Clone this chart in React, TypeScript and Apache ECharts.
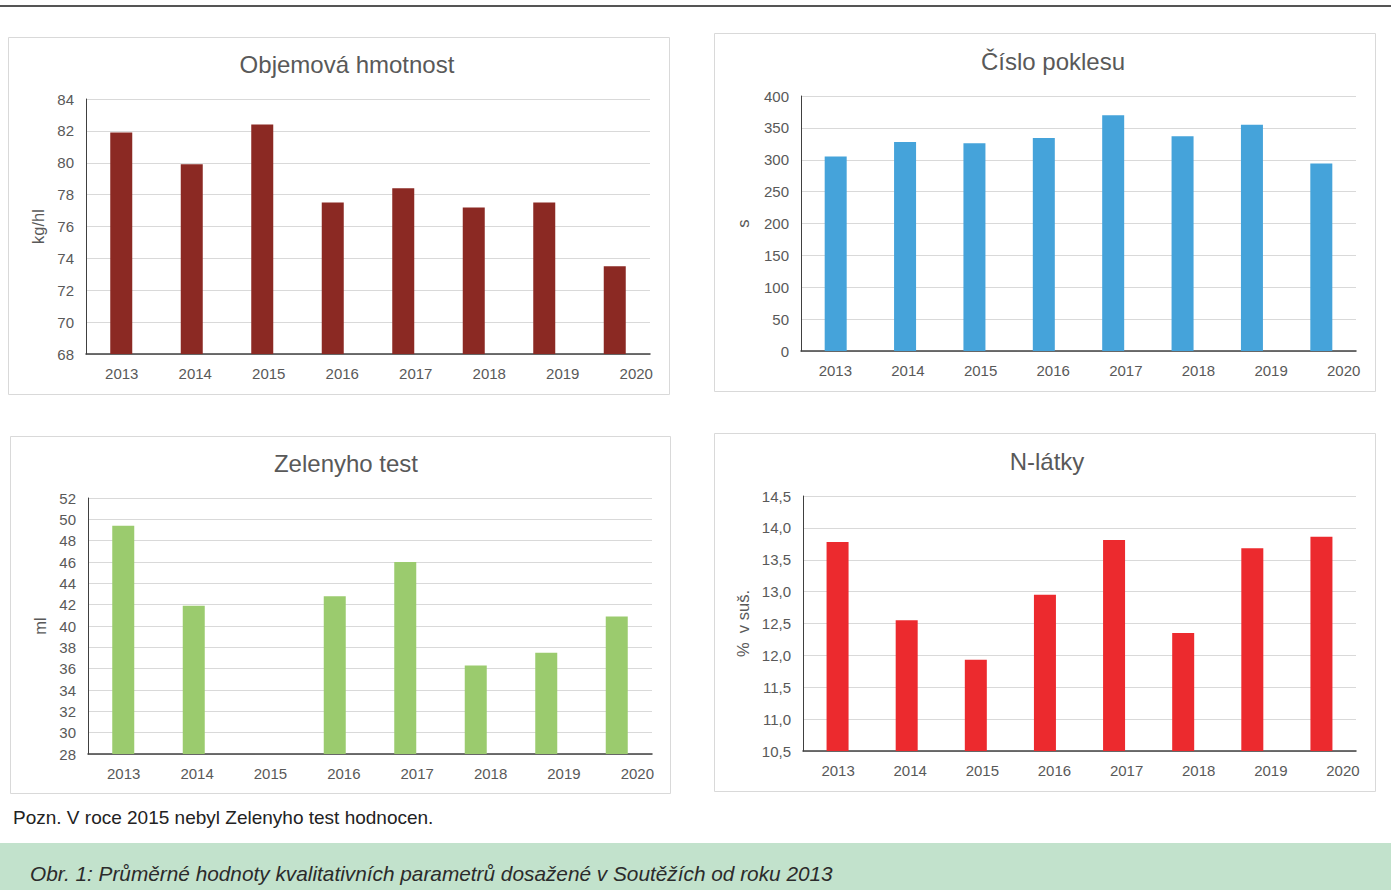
import React, { useEffect, useRef } from "react";
import * as echarts from "echarts";

const years = ["2013", "2014", "2015", "2016", "2017", "2018", "2019", "2020"];
const objemovaHmotnost = [81.9, 79.9, 82.4, 77.5, 78.4, 77.2, 77.5, 73.5];
const cisloPoklesu = [305, 328, 326, 334, 370, 337, 355, 294];
const zelenyhoTest = [49.4, 41.9, null, 42.8, 46.0, 36.3, 37.5, 40.9];
const nLatky = [13.78, 12.55, 11.93, 12.95, 13.81, 12.35, 13.68, 13.86];

const titles = ["Objemová hmotnost", "Číslo poklesu", "Zelenyho test", "N-látky"];
const units = ["kg/hl", "s", "ml", "%  v suš."];
const noteText = "Pozn. V roce 2015 nebyl Zelenyho test hodnocen.";
const captionText = "Obr. 1: Průměrné hodnoty kvalitativních parametrů dosažené v Soutěžích od roku 2013";

const FONT = '"Liberation Sans", Arial, Helvetica, sans-serif';
const LABEL_COLOR = "#595959";

type Panel = {
  data: (number | null)[];
  color: string;
  min: number;
  max: number;
  interval: number;
  fmt?: (v: number) => string;
  box: [number, number, number, number];
  titleXY: [number, number];
  grid: { left: number; top: number; width: number; height: number };
  labelGrid: { left: number; width: number };
  nameGap: number;
};

const panels: Panel[] = [
  {
    data: objemovaHmotnost, color: "#8B2923", min: 68, max: 84, interval: 2,
    box: [8, 37, 661, 357], titleXY: [347, 64],
    grid: { left: 86, top: 99, width: 564, height: 255 },
    labelGrid: { left: 85, width: 588 }, nameGap: 40,
  },
  {
    data: cisloPoklesu, color: "#45A3DA", min: 0, max: 400, interval: 50,
    box: [714, 33, 661, 358], titleXY: [1053, 61],
    grid: { left: 801, top: 96, width: 555, height: 255 },
    labelGrid: { left: 799, width: 581 }, nameGap: 50,
  },
  {
    data: zelenyhoTest, color: "#9BCB6E", min: 28, max: 52, interval: 2,
    box: [10, 436, 660, 357], titleXY: [346, 463],
    grid: { left: 88, top: 498, width: 564, height: 256 },
    labelGrid: { left: 87, width: 587 }, nameGap: 40,
  },
  {
    data: nLatky, color: "#EC2A2E", min: 10.5, max: 14.5, interval: 0.5,
    fmt: (v: number) => v.toFixed(1).replace(".", ","),
    box: [714, 433, 661, 358], titleXY: [1047, 461],
    grid: { left: 803, top: 496, width: 553, height: 255 },
    labelGrid: { left: 802, width: 577 }, nameGap: 52,
  },
];

export default function App() {
  const ref = useRef<HTMLDivElement>(null);

  useEffect(() => {
    if (!ref.current) return;
    const chart = echarts.init(ref.current, null, { renderer: "svg" });

    const grids: any[] = [];
    const xAxes: any[] = [];
    const yAxes: any[] = [];
    const series: any[] = [];
    const graphics: any[] = [];

    graphics.push({ type: "rect", shape: { x: 0, y: 5, width: 1391, height: 2 }, style: { fill: "#555555" }, silent: true });

    panels.forEach((p, i) => {
      graphics.push({
        type: "rect",
        shape: { x: p.box[0] + 0.5, y: p.box[1] + 0.5, width: p.box[2], height: p.box[3] },
        style: { fill: "#ffffff", stroke: "#d9d9d9", lineWidth: 1 },
        z: -10,
        silent: true,
      });
      graphics.push({
        type: "text",
        x: p.titleXY[0],
        y: p.titleXY[1],
        style: {
          text: titles[i],
          fill: LABEL_COLOR,
          fontSize: 24,
          fontFamily: FONT,
          align: "center",
          verticalAlign: "middle",
        },
        silent: true,
      });

      const g = p.grid;
      grids.push({ left: g.left, top: g.top, width: g.width, height: g.height, containLabel: false });
      grids.push({ left: p.labelGrid.left, top: g.top, width: p.labelGrid.width, height: g.height, containLabel: false });

      xAxes.push({
        type: "category",
        gridIndex: 2 * i,
        data: years,
        axisLine: { show: true, lineStyle: { color: "#404040", width: 1.5 } },
        axisTick: { show: false },
        axisLabel: { show: false },
        splitLine: { show: false },
      });
      xAxes.push({
        type: "category",
        gridIndex: 2 * i + 1,
        data: years,
        axisLine: { show: false },
        axisTick: { show: false },
        axisLabel: { show: true, margin: 12, color: LABEL_COLOR, fontSize: 15, fontFamily: FONT },
        splitLine: { show: false },
      });

      yAxes.push({
        type: "value",
        gridIndex: 2 * i,
        min: p.min,
        max: p.max,
        interval: p.interval,
        name: units[i],
        nameLocation: "middle",
        nameGap: p.nameGap,
        nameRotate: 90,
        nameTextStyle: { color: LABEL_COLOR, fontSize: 16.5, fontFamily: FONT },
        axisLine: { show: true, lineStyle: { color: "#404040", width: 1 } },
        axisTick: { show: false },
        axisLabel: {
          margin: 12,
          color: LABEL_COLOR,
          fontSize: 15,
          fontFamily: FONT,
          formatter: p.fmt ? (v: number) => p.fmt!(v) : (v: number) => String(v),
        },
        splitLine: { show: true, lineStyle: { color: "#d9d9d9", width: 1 } },
      });
      yAxes.push({
        type: "value",
        gridIndex: 2 * i + 1,
        show: false,
        min: 0,
        max: 1,
        splitLine: { show: false },
      });

      series.push({
        type: "bar",
        xAxisIndex: 2 * i,
        yAxisIndex: 2 * i,
        data: p.data,
        barWidth: 22,
        itemStyle: { color: p.color },
        silent: true,
      });
    });

    graphics.push({
      type: "text",
      x: 13,
      y: 817,
      style: { text: noteText, fill: "#222222", fontSize: 19, fontFamily: FONT, verticalAlign: "middle" },
      silent: true,
    });
    graphics.push({ type: "rect", shape: { x: 0, y: 843, width: 1391, height: 47 }, style: { fill: "#C2E2CC" }, silent: true });
    graphics.push({
      type: "text",
      x: 30,
      y: 873,
      style: {
        text: captionText,
        fill: "#2b2b2b",
        fontSize: 20.8,
        fontStyle: "italic",
        fontFamily: FONT,
        verticalAlign: "middle",
      },
      silent: true,
    });

    chart.setOption({
      animation: false,
      backgroundColor: "#ffffff",
      grid: grids,
      xAxis: xAxes,
      yAxis: yAxes,
      series,
      graphic: { elements: graphics },
    });

    return () => chart.dispose();
  }, []);

  return (
    <div
      ref={ref}
      style={{ position: "absolute", left: 0, top: 0, width: 1391, height: 890 }}
    />
  );
}
